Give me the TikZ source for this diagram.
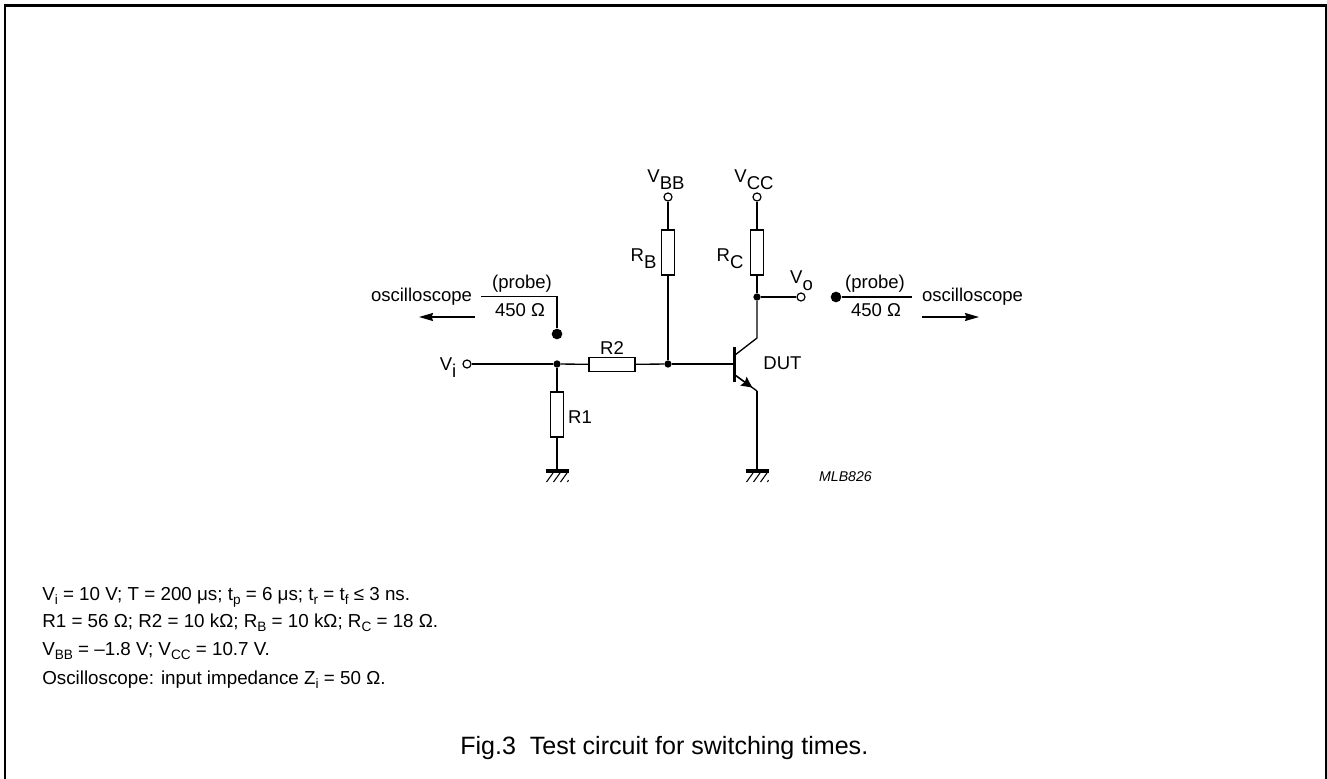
\documentclass[tikz,border=0pt]{standalone}
\usepackage{fontspec}
\setmainfont{Liberation Sans}
\usetikzlibrary{arrows.meta,calc}
\newcommand{\dn}[1]{\raisebox{-0.42em}{#1}}
\newcommand{\nsub}[1]{\raisebox{-0.22em}{\fontsize{10.2}{11}\selectfont #1}}
\tikzset{
  wire/.style={line width=1pt,line cap=butt},
  heavy/.style={line width=1.5pt},
  res/.style={draw,line width=1pt,fill=white,inner sep=0pt,minimum width=#1},
  resv/.style={res=9.75pt,minimum height=33.75pt},
  resh/.style={res=34.5pt,minimum height=10.5pt},
  term/.style={circle,draw,line width=.9pt,fill=white,inner sep=0pt,minimum size=6pt},
  junc/.style={circle,fill=black,inner sep=0pt,minimum size=5.5pt},
  probedot/.style={circle,fill=black,inner sep=0pt,minimum size=8pt},
  lab/.style={inner sep=0pt,font=\fontsize{13.9}{15}\selectfont},
  note/.style={inner sep=0pt,anchor=base west,font=\fontsize{14.1}{15}\selectfont},
  arrowline/.style={wire,-{Stealth[length=10.5pt,width=6pt,inset=1pt]}},
  gndbar/.style={line width=2.6pt},
  hatch/.style={line width=.8pt}
}
\begin{document}
\begin{tikzpicture}[x=0.75pt,y=-0.75pt]
\useasboundingbox (0,0) rectangle (1327,778);
\draw[line width=1.6pt] (5,782) -- (5,5.5) -- (1326,5.5) -- (1326,782);

% nodes
\node[term] (vi) at (467,364) {};
\node[junc] (j1) at (557,364) {};
\node[junc] (j2) at (668,364) {};
\node[term] (vbb) at (668,197) {};
\node[term] (vcc) at (757,197) {};
\node[junc] (j3) at (757,297) {};
\node[term] (vo) at (801,297) {};
\node[resv] (rb) at (668,252.5) {};
\node[resv] (rc) at (757,252.5) {};
\node[resv] (r1) at (557,414.5) {};
\node[resh] (r2) at (612,364.5) {};
\node[probedot] (p1) at (557,334) {};
\node[probedot] (p2) at (836,297) {};
\coordinate (g1) at (557,471);
\coordinate (g2) at (757,471);
\coordinate (b) at (734,364);
\coordinate (c0) at (735,355);
\coordinate (c1) at (757,338);
\coordinate (e0) at (735,375);
\coordinate (e1) at (757,391);
\coordinate (bart) at (734.5,347);
\coordinate (barb) at (734.5,382);
\coordinate (p1c) at (557,296.5);
\coordinate (p1e) at (481,296.5);
\coordinate (p2e) at (912,297);
\coordinate (a1s) at (475,317);
\coordinate (a1e) at (419,317);
\coordinate (a2s) at (922,317);
\coordinate (a2e) at (979,317);
\coordinate (vihe) at (540,364);

% wires
\draw[heavy] (vi) -- (vihe);
\draw[wire] (vihe) -- (j1);
\draw[wire] (j1) -- (r2);
\draw[wire] (r2) -- (j2);
\draw[wire] (j2) -- (b);
\draw[wire] (vbb) -- (rb);
\draw[wire] (rb) -- (j2);
\draw[wire] (vcc) -- (rc);
\draw[wire] (rc) -- (j3);
\draw[wire] (j3) -- (vo);
\draw[wire] (j3) -- (c1) -- (c0);
\draw[wire] (j1) -- (r1);
\draw[wire] (r1) -- (g1);
\draw[wire] (e1) -- (g2);
\draw[line width=2.4pt] (bart) -- (barb);
\draw[wire] (e0) -- (e1);
\draw[wire,-{Stealth[length=8pt,width=8pt,inset=1.2pt]}] (e0) -- ($(e0)!0.78!(e1)$);
\draw[wire] (p1e) -- (p1c) -- (p1);
\draw[wire] (p2) -- (p2e);
\draw[arrowline] (a1s) -- (a1e);
\draw[arrowline] (a2s) -- (a2e);

% grounds
\foreach \g in {g1,g2}{
  \draw[gndbar] ($(\g)+(-11.5,0)$) -- ($(\g)+(11.5,0)$);
  \foreach \d in {-4,3,10}
    \draw[hatch] ($(\g)+(\d,2)$) -- ($(\g)+(\d-6.5,11)$);
  \draw[hatch] ($(\g)+(11.5,9)$) -- ($(\g)+(10.5,11)$);
}

% schematic labels
\node[lab,anchor=base] (lbb) at (666,182) {V\dn{BB}};
\node[lab,anchor=base] (lcc) at (754,182) {V\dn{CC}};
\node[lab,anchor=base] (lrb) at (643.5,261) {R\dn{B}};
\node[lab,anchor=base] (lrc) at (730,261) {R\dn{C}};
\node[lab,anchor=base] (lvo) at (801.5,283) {V\dn{o}};
\node[lab,anchor=base] (lvi) at (448,370) {V\dn{i}};
\node[lab,anchor=base] (lr2) at (612,354) {R2};
\node[lab,anchor=base] (lr1) at (580,423) {R1};
\node[lab,anchor=base] (ldut) at (782.5,369) {DUT};
\node[lab,anchor=base] (os1) at (421.5,301) {oscilloscope};
\node[lab,anchor=base] (os2) at (972.5,301) {oscilloscope};
\node[lab,anchor=base] (pr1) at (522,288) {(probe)};
\node[lab,anchor=base] (pr2) at (875,288) {(probe)};
\node[lab,anchor=base] (oh1) at (520,316) {450 Ω};
\node[lab,anchor=base] (oh2) at (876,316) {450 Ω};
\node[inner sep=0pt,anchor=base,font=\fontsize{10.6}{12}\selectfont\itshape] (mlb) at (845.5,481) {MLB826};

% notes
\node[note] (n1) at (42,600) {V\nsub{i} = 10 V; T = 200 μs; t\nsub{p} = 6 μs; t\nsub{r} = t\nsub{f} ≤ 3 ns.};
\node[note] (n2) at (42,627.5) {R1 = 56 Ω; R2 = 10 kΩ; R\nsub{B} = 10 kΩ; R\nsub{C} = 18 Ω.};
\node[note] (n3) at (42,655.5) {V\nsub{BB} = –1.8 V; V\nsub{CC} = 10.7 V.};
\node[note] (n4) at (42,684) {Oscilloscope: input impedance Z\nsub{i} = 50 Ω.};
\node[inner sep=0pt,anchor=base west,font=\fontsize{18.8}{20}\selectfont] (cap) at (460,754) {Fig.3\hspace{0.55em}Test circuit for switching times.};
\end{tikzpicture}
\end{document}
